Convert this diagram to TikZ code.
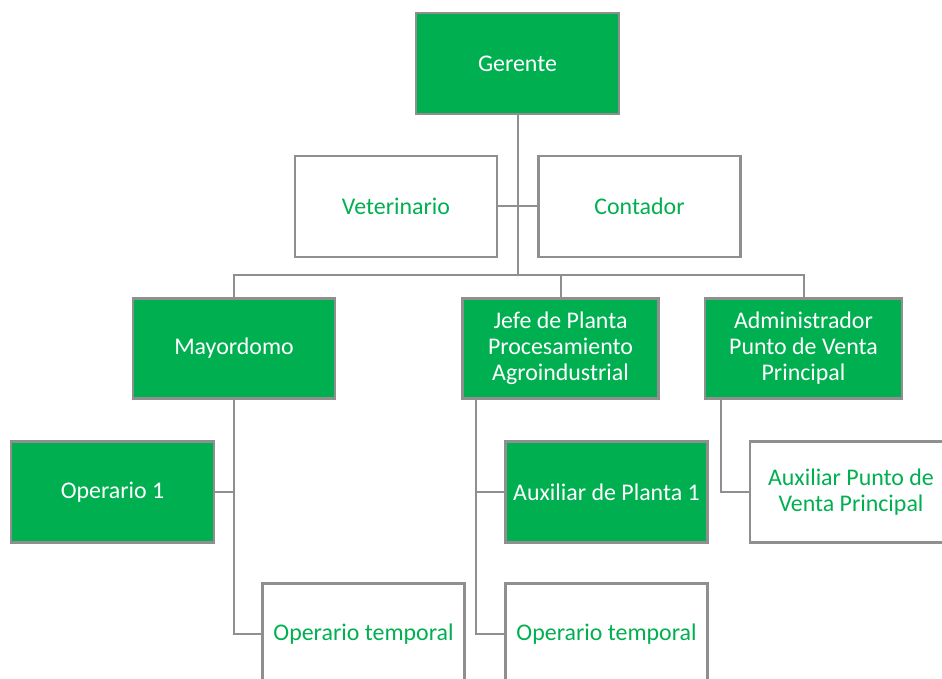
\documentclass[tikz,border=0pt]{standalone}
\usepackage{xcolor}
\usepackage{fontspec}
\setmainfont{Carlito}
\usepackage{tikz}
\usetikzlibrary{positioning}

\definecolor{orggreen}{HTML}{00B050}
\definecolor{orggray}{HTML}{8F8F8F}

\tikzset{
  orgbox/.style={draw=orggray, line width=2.5pt, inner sep=0pt, minimum width=202pt,
    minimum height=101pt, align=center, font=\fontsize{23.9}{26}\selectfont},
  greenbox/.style={orgbox, fill=orggreen, text=white},
  whitebox/.style={orgbox, fill=white, text=orggreen},
  orgline/.style={draw=orggray, line width=2pt}
}

\begin{document}
\begin{tikzpicture}[x=1pt, y=-1pt]
  \useasboundingbox (0,0) rectangle (942,679);

  \node[greenbox, minimum width=203pt] (gerente) at (517.5,63.5) {Gerente};
  \node[whitebox] (veterinario) at (396,206.5) {Veterinario};
  \node[whitebox] (contador) at (639.5,206.5) {Contador};

  \node[greenbox, minimum height=100pt] (mayordomo) at (234,348.5) {Mayordomo};
  \node[greenbox, minimum height=100pt, minimum width=196pt] (jefe) at (560.5,348.5) {Jefe de Planta\\Procesamiento\\Agroindustrial};
  \node[greenbox, minimum height=100pt, minimum width=197pt] (admin) at (803.5,348.5) {Administrador\\Punto de Venta\\Principal};

  \node[greenbox, minimum width=203pt] (operario) at (112.5,492) {Operario 1};
  \node[whitebox] (temporalA) at (363.5,634) {Operario temporal};
  \node[greenbox] (auxplanta) at (606.5,492) {Auxiliar de Planta 1};
  \node[whitebox] (temporalB) at (606.5,634) {Operario temporal};
  \node[whitebox] (auxventa) at (851,492) {Auxiliar Punto de\\Venta Principal};

  \coordinate (bus) at (517.5,275);
  \coordinate (jefeleg) at ([xshift=15pt]jefe.south west);
  \coordinate (adminleg) at ([xshift=17pt]admin.south west);

  \draw[orgline] (gerente.south) -- (bus);
  \draw[orgline] (veterinario.east) -- (contador.west);
  \draw[orgline] (mayordomo.north) -- (mayordomo.north |- bus) -- (admin.north |- bus) -- (admin.north);
  \draw[orgline] (jefe.north) -- (jefe.north |- bus);

  \draw[orgline] (mayordomo.south) |- (temporalA.west);
  \draw[orgline] (operario.east) -- (operario.east -| mayordomo.south);

  \draw[orgline] (jefeleg) |- (temporalB.west);
  \draw[orgline] (jefeleg |- auxplanta.west) -- (auxplanta.west);

  \draw[orgline] (adminleg) |- (auxventa.west);
\end{tikzpicture}
\end{document}
